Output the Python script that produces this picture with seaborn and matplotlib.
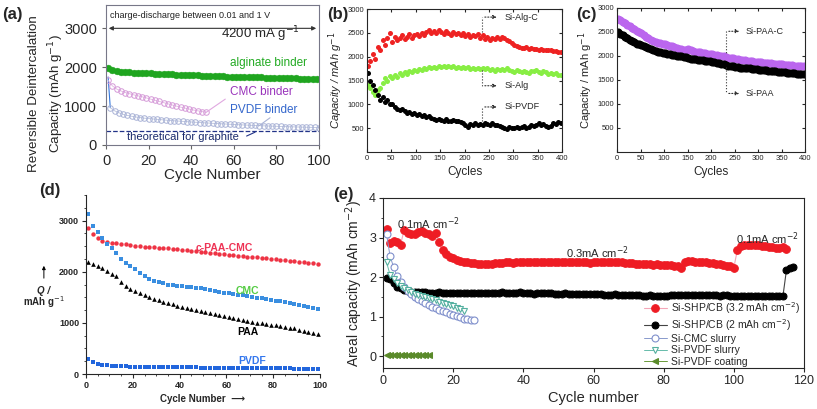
import numpy as np
import matplotlib
matplotlib.use("Agg")
import matplotlib.pyplot as plt
import seaborn as sns

sns.set_style("ticks")
plt.rcParams['font.family'] = ['Liberation Sans', 'DejaVu Sans']
plt.rcParams['axes.linewidth'] = 0.8

# ---------------- (a) ----------------
a_x_alg = np.arange(1, 101, 2)
a_alg = [1990, 1930, 1900, 1885, 1875, 1868, 1860, 1855, 1850, 1845,
         1840, 1835, 1830, 1825, 1820, 1815, 1810, 1805, 1800, 1796,
         1792, 1788, 1784, 1780, 1776, 1772, 1768, 1764, 1760, 1757,
         1754, 1751, 1748, 1745, 1742, 1739, 1736, 1733, 1730, 1727,
         1724, 1721, 1718, 1715, 1712, 1710, 1708, 1706, 1704, 1702]
a_x_cmc = np.arange(1, 48, 2)
a_cmc = [1660, 1520, 1440, 1390, 1350, 1320, 1290, 1265, 1240, 1210,
         1180, 1150, 1120, 1090, 1060, 1030, 1000, 975, 950, 925,
         900, 880, 860, 840]
a_x_pvdf = [1, 2, 4, 6, 8, 10, 12, 14, 16, 18, 20, 22, 24, 26, 28, 30, 32, 34, 36, 38,
            40, 42, 44, 46, 48, 50, 52, 54, 56, 58, 60, 62, 64, 66, 68, 70, 72, 74, 76, 78,
            80, 82, 84, 86, 88, 90, 92, 94, 96, 98, 100]
a_pvdf = [1750, 960, 880, 830, 790, 760, 740, 720, 705, 690, 680, 670, 660, 650, 640, 630,
          622, 615, 608, 600, 592, 585, 578, 571, 565, 558, 552, 546, 540, 534, 528, 522,
          517, 512, 507, 502, 497, 493, 489, 485, 481, 477, 473, 469, 466, 463, 460, 457,
          454, 451, 448]
graphite_theory = 372

# ---------------- (b) ----------------
b_x = np.arange(2, 400, 5)
b_algc = [1800, 1900, 2050, 1950, 2200, 2150, 2350, 2250, 2400, 2500,
          2300, 2420, 2350, 2400, 2450, 2380, 2420, 2470, 2400, 2450,
          2480, 2430, 2500, 2460, 2520, 2550, 2490, 2530, 2500, 2560,
          2510, 2480, 2530, 2500, 2460, 2510, 2470, 2500, 2450, 2490,
          2440, 2480, 2420, 2460, 2430, 2470, 2400, 2450, 2380, 2420,
          2350, 2400, 2370, 2410, 2380, 2420, 2390, 2360, 2330, 2280,
          2240, 2220, 2200, 2190, 2180, 2200, 2170, 2180, 2160, 2170,
          2150, 2160, 2140, 2150, 2130, 2140, 2120, 2110, 2100, 2090]
b_alg = [1400, 1350, 1250, 1200, 1300, 1350, 1450, 1550, 1500, 1600,
         1550, 1620, 1580, 1650, 1620, 1680, 1640, 1700, 1680, 1720,
         1700, 1740, 1720, 1760, 1740, 1780, 1760, 1790, 1770, 1800,
         1780, 1810, 1790, 1800, 1780, 1800, 1770, 1790, 1760, 1780,
         1760, 1780, 1750, 1770, 1740, 1760, 1750, 1770, 1740, 1760,
         1720, 1750, 1700, 1740, 1720, 1750, 1730, 1760, 1720, 1700,
         1680, 1710, 1690, 1670, 1700, 1680, 1660, 1700, 1690, 1720,
         1680, 1660, 1700, 1670, 1640, 1660, 1630, 1650, 1620, 1610]
b_pvdf = [1650, 1500, 1400, 1300, 1200, 1100, 1150, 1050, 1100, 1000,
          1000, 950, 900, 880, 900, 850, 820, 840, 800, 820,
          780, 800, 760, 780, 740, 760, 720, 700, 680, 700,
          680, 660, 690, 660, 650, 680, 640, 660, 620, 600,
          560, 520, 580, 560, 600, 570, 590, 560, 600, 580,
          560, 600, 570, 560, 540, 520, 500, 480, 520, 500,
          510, 530, 500, 520, 540, 510, 530, 560, 540, 570,
          600, 560, 580, 550, 520, 540, 600, 580, 620, 600]

# ---------------- (c) ----------------
c_x = np.arange(2, 400, 5)
c_paac = [2780, 2740, 2710, 2680, 2650, 2620, 2590, 2560, 2530, 2500,
          2470, 2430, 2400, 2370, 2340, 2310, 2290, 2280, 2270, 2260,
          2250, 2230, 2210, 2200, 2180, 2160, 2150, 2140, 2130, 2120,
          2140, 2120, 2100, 2090, 2080, 2080, 2070, 2060, 2050, 2050,
          2040, 2030, 2020, 2010, 2000, 1990, 1980, 1960, 1950, 1950,
          1940, 1930, 1920, 1920, 1910, 1900, 1900, 1890, 1880, 1880,
          1870, 1870, 1860, 1860, 1850, 1850, 1840, 1840, 1830, 1830,
          1830, 1820, 1820, 1810, 1810, 1800, 1800, 1800, 1790, 1790]
c_paa = [2490, 2460, 2430, 2400, 2370, 2340, 2310, 2290, 2260, 2240,
         2220, 2200, 2180, 2160, 2140, 2120, 2100, 2090, 2080, 2070,
         2060, 2050, 2040, 2030, 2020, 2010, 2000, 1990, 1980, 1970,
         1950, 1940, 1940, 1930, 1920, 1920, 1910, 1900, 1900, 1890,
         1880, 1870, 1860, 1850, 1840, 1830, 1820, 1800, 1790, 1790,
         1780, 1770, 1760, 1760, 1750, 1740, 1740, 1730, 1730, 1720,
         1710, 1710, 1700, 1700, 1690, 1690, 1680, 1680, 1670, 1670,
         1660, 1660, 1650, 1650, 1640, 1640, 1630, 1630, 1620, 1620]

# ---------------- (d) ----------------
d_x = np.arange(1, 100, 2)
d_cpaa = [2860, 2730, 2660, 2610, 2585, 2570, 2560, 2545, 2535, 2520,
          2510, 2500, 2492, 2485, 2478, 2470, 2462, 2455, 2447, 2438,
          2430, 2421, 2412, 2403, 2393, 2383, 2373, 2363, 2353, 2340,
          2330, 2322, 2313, 2305, 2296, 2288, 2280, 2271, 2263, 2254,
          2245, 2236, 2227, 2218, 2208, 2199, 2190, 2180, 2170, 2160]
d_cmc = [3120, 2900, 2780, 2650, 2550, 2460, 2370, 2240, 2180, 2110,
         2050, 1980, 1910, 1860, 1820, 1790, 1770, 1750, 1740, 1730,
         1720, 1710, 1700, 1690, 1680, 1660, 1650, 1630, 1610, 1590,
         1580, 1570, 1550, 1540, 1520, 1510, 1490, 1480, 1460, 1450,
         1430, 1420, 1400, 1380, 1370, 1350, 1330, 1310, 1290, 1280]
d_paa = [2190, 2150, 2120, 2070, 2010, 1960, 1910, 1790, 1720, 1660,
         1620, 1580, 1540, 1510, 1470, 1440, 1410, 1380, 1360, 1330,
         1310, 1290, 1270, 1250, 1230, 1210, 1190, 1170, 1150, 1130,
         1110, 1090, 1070, 1050, 1030, 1020, 1005, 990, 975, 960,
         950, 935, 920, 905, 890, 870, 850, 830, 810, 790]
d_pvdf = [290, 240, 205, 185, 170, 160, 155, 150, 148, 145,
          143, 141, 140, 138, 137, 136, 135, 134, 133, 132,
          131, 130, 129, 128, 127, 126, 125, 124, 123, 122,
          121, 120, 119, 118, 117, 116, 115, 114, 113, 112,
          111, 110, 109, 108, 107, 106, 105, 104, 103, 102]

# ---------------- (e) ----------------
e_x_red = np.arange(1, 116)
e_red = [3.22, 2.85, 2.92, 2.88, 2.82, 3.18, 3.12, 3.10, 3.10, 3.14,
         3.17, 3.12, 3.08, 3.05, 3.12, 2.88, 2.68, 2.58, 2.52, 2.47,
         2.43, 2.40, 2.38, 2.37, 2.36, 2.35, 2.34, 2.34, 2.33, 2.34,
         2.34, 2.35, 2.35, 2.36, 2.37, 2.37, 2.36, 2.37, 2.38, 2.38,
         2.39, 2.39, 2.38, 2.38, 2.37, 2.38, 2.38, 2.39, 2.38, 2.38,
         2.38, 2.39, 2.39, 2.38, 2.39, 2.38, 2.37, 2.37, 2.36, 2.37,
         2.37, 2.38, 2.37, 2.38, 2.37, 2.38, 2.38, 2.37, 2.36, 2.35,
         2.35, 2.34, 2.34, 2.33, 2.33, 2.32, 2.31, 2.32, 2.30, 2.30,
         2.31, 2.30, 2.28, 2.27, 2.22, 2.38, 2.40, 2.40, 2.39, 2.38,
         2.38, 2.37, 2.36, 2.35, 2.34, 2.33, 2.31, 2.29, 2.27, 2.24,
         2.68, 2.78, 2.82, 2.82, 2.81, 2.80, 2.80, 2.79, 2.78, 2.77,
         2.75, 2.74, 2.73, 2.76, 2.72]
e_x_black = np.arange(1, 118)
e_black = [1.98, 1.96, 1.86, 1.76, 1.72, 1.68, 1.65, 1.63, 1.62, 1.62,
           1.61, 1.61, 1.60, 1.60, 1.60, 1.61, 1.60, 1.60, 1.59, 1.60,
           1.60, 1.59, 1.60, 1.59, 1.60, 1.60, 1.59, 1.60, 1.59, 1.59,
           1.59, 1.60, 1.60, 1.61, 1.60, 1.59, 1.60, 1.60, 1.61, 1.60,
           1.59, 1.59, 1.58, 1.59, 1.59, 1.60, 1.59, 1.59, 1.58, 1.58,
           1.58, 1.59, 1.58, 1.58, 1.57, 1.58, 1.57, 1.57, 1.57, 1.56,
           1.56, 1.56, 1.55, 1.55, 1.55, 1.56, 1.55, 1.55, 1.55, 1.54,
           1.54, 1.54, 1.54, 1.53, 1.53, 1.54, 1.53, 1.53, 1.53, 1.52,
           1.53, 1.54, 1.54, 1.55, 1.55, 1.54, 1.54, 1.55, 1.55, 1.54,
           1.54, 1.54, 1.55, 1.54, 1.54, 1.53, 1.54, 1.54, 1.53, 1.53,
           1.53, 1.52, 1.52, 1.52, 1.51, 1.51, 1.51, 1.52, 1.51, 1.51,
           1.51, 1.52, 1.52, 1.52, 2.18, 2.23, 2.25]
e_x_cmc = np.arange(1, 27)
e_cmc = [3.10, 2.53, 2.26, 2.02, 1.88, 1.76, 1.66, 1.58, 1.50, 1.44,
         1.39, 1.34, 1.29, 1.25, 1.21, 1.17, 1.14, 1.11, 1.07, 1.04,
         1.01, 0.98, 0.95, 0.93, 0.92, 0.91]
e_x_pvdf = np.arange(1, 24)
e_pvdf = [2.38, 2.06, 1.95, 1.85, 1.78, 1.72, 1.67, 1.62, 1.58, 1.55,
          1.52, 1.50, 1.47, 1.44, 1.42, 1.38, 1.35, 1.32, 1.29, 1.26,
          1.22, 1.19, 1.15]
e_x_coat = np.arange(1, 14)
e_coat = [0.03, 0.02, 0.02, 0.02, 0.02, 0.02, 0.02, 0.02, 0.02, 0.02, 0.02, 0.02, 0.02]
e_labels = ['Si-SHP/CB (3.2 mAh cm$^{-2}$)', 'Si-SHP/CB (2 mAh cm$^{-2}$)',
            'Si-CMC slurry', 'Si-PVDF slurry', 'Si-PVDF coating']

W, H = 817, 409
fig = plt.figure(figsize=(W / 100, H / 100), dpi=100)


def box(l, t, r, b):
    return [l / W, 1 - b / H, (r - l) / W, (b - t) / H]


# ---- panel a ----
ax = fig.add_axes(box(106, 5, 319, 145))
sns.lineplot(x=a_x_pvdf[:2], y=a_pvdf[:2], ax=ax, color='#3377dd', lw=0.8)
sns.lineplot(x=a_x_pvdf[1:], y=a_pvdf[1:], ax=ax, color='#b8c0dc', lw=0.6, marker='o',
             markersize=4, markerfacecolor='none', markeredgecolor='#a9b3d6', markeredgewidth=0.7)
sns.lineplot(x=a_x_cmc, y=a_cmc, ax=ax, color='#e0b4e0', lw=0.6, marker='o',
             markersize=4, markerfacecolor='none', markeredgecolor='#d59ad8', markeredgewidth=0.7)
sns.scatterplot(x=a_x_alg, y=a_alg, ax=ax, color='#1fa51f', s=24, edgecolor='#1fa51f', linewidth=0.3)
ax.axhline(graphite_theory, color='#223388', ls='--', lw=0.9)
ax.plot([47, 56], [840, 1180], color='#e0a8e0', lw=0.8)
ax.plot([72, 77], [500, 700], color='#a9b3d6', lw=0.8)
ax.plot([66, 70], [230, 330], color='#223388', lw=0.8)
ax.annotate('', xy=(0, 3000), xytext=(100, 3000),
            arrowprops=dict(arrowstyle='<|-|>', color='#333333', lw=0.8, mutation_scale=6))
ax.text(2, 3340, 'charge-discharge between 0.01 and 1 V', fontsize=6.5, va='center', color='#222222')
ax.text(91, 2860, '4200 mA g$^{-1}$', fontsize=9.5, ha='right', va='center')
ax.text(58, 2100, 'alginate binder', fontsize=8.5, color='#22aa22', va='center')
ax.text(58, 1360, 'CMC binder', fontsize=8.5, color='#9933bb', va='center')
ax.text(58, 900, 'PVDF binder', fontsize=8.5, color='#3366cc', va='center')
ax.text(10, 200, 'theoretical for graphite', fontsize=8, color='#1a2a6c', va='center')
ax.set_xlim(0, 100)
ax.set_ylim(0, 3600)
ax.set_xticks([0, 20, 40, 60, 80, 100])
ax.set_yticks([0, 1000, 2000, 3000])
ax.tick_params(labelsize=10.5, length=3, color='#666666')
ax.set_xlabel('Cycle Number', fontsize=11, labelpad=0)
ax.set_ylabel('Reversible Deintercalation\nCapacity (mAh g$^{-1}$)', fontsize=9.6, linespacing=1.4)
ax.yaxis.set_label_coords(-0.19, 0.37)
for s in ax.spines.values():
    s.set_color('#777788')

# ---- panel b ----
ax = fig.add_axes(box(367, 9, 562, 152))
sns.scatterplot(x=b_x, y=b_algc, ax=ax, color='#ee2222', s=13, linewidth=0)
sns.scatterplot(x=b_x, y=b_alg, ax=ax, color='#88ee44', s=13, linewidth=0)
sns.scatterplot(x=b_x, y=b_pvdf, ax=ax, color='black', s=13, linewidth=0)
for yv, y0, name in [(2830, 2520, 'Si-Alg-C'), (1390, 1720, 'Si-Alg'), (945, 660, 'Si-PVDF')]:
    ax.plot([236, 236], [y0, yv], color='#333333', ls=':', lw=0.8)
    ax.annotate('', xy=(272, yv), xytext=(236, yv),
                arrowprops=dict(arrowstyle='-|>', color='#333333', ls=':', lw=0.8, mutation_scale=5))
    ax.text(282, yv, name, fontsize=6.5, va='center')
ax.set_xlim(0, 400)
ax.set_ylim(0, 3000)
ax.set_xticks(range(0, 401, 50))
ax.set_yticks(range(500, 3001, 500))
ax.tick_params(labelsize=5.5, direction='in', length=2.5, top=True, right=True, pad=2)
ax.set_xlabel('Cycles', fontsize=8.5, labelpad=3)
ax.set_ylabel('Capacity / mAh g$^{-1}$', fontsize=8, style='italic', labelpad=2)

# ---- panel c ----
ax = fig.add_axes(box(617, 8, 805, 152))
sns.scatterplot(x=c_x, y=c_paac, ax=ax, color='#bb66ee', s=34, linewidth=0)
sns.scatterplot(x=c_x, y=c_paa, ax=ax, color='black', s=34, linewidth=0)
ax.plot([232, 232], [2515, 2060], color='#333333', ls=':', lw=0.8)
ax.plot([232, 232], [1780, 1220], color='#333333', ls=':', lw=0.8)
for yv, name in [(2515, 'Si-PAA-C'), (1220, 'Si-PAA')]:
    ax.annotate('', xy=(266, yv), xytext=(232, yv),
                arrowprops=dict(arrowstyle='-|>', color='#333333', ls=':', lw=0.8, mutation_scale=5))
    ax.text(274, yv, name, fontsize=6.5, va='center')
ax.set_xlim(0, 400)
ax.set_ylim(0, 3000)
ax.set_xticks(range(0, 401, 50))
ax.set_yticks(range(500, 3001, 500))
ax.tick_params(labelsize=5.5, direction='in', length=2.5, top=True, right=True, pad=2)
ax.set_xlabel('Cycles', fontsize=8.5, labelpad=3)
ax.set_ylabel('Capacity / mAh g$^{-1}$', fontsize=8, labelpad=2)

# ---- panel d ----
ax = fig.add_axes(box(86, 195, 320, 374))
sns.scatterplot(x=d_x, y=d_cpaa, ax=ax, color='#ee3344', s=10, linewidth=0, marker='o')
sns.scatterplot(x=d_x, y=d_cmc, ax=ax, color='#3a8ee0', s=10, linewidth=0, marker='s')
sns.scatterplot(x=d_x, y=d_paa, ax=ax, color='black', s=11, linewidth=0, marker='^')
sns.scatterplot(x=d_x, y=d_pvdf, ax=ax, color='#2266dd', s=11, linewidth=0, marker='s')
ax.text(59, 2470, 'c-PAA-CMC', fontsize=7.5, color='#ee3355', fontweight='bold', ha='center', va='center')
ax.text(69, 1630, 'CMC', fontsize=7.5, color='#55cc44', fontweight='bold', ha='center', va='center')
ax.text(69, 820, 'PAA', fontsize=7.5, color='black', fontweight='bold', ha='center', va='center')
ax.text(71, 255, 'PVDF', fontsize=7.5, color='#3377ee', fontweight='bold', ha='center', va='center')
ax.annotate('', xy=(-0.18, 0.62), xytext=(-0.18, 0.52), xycoords='axes fraction',
            arrowprops=dict(arrowstyle='-|>', color='black', lw=0.7, mutation_scale=5))
ax.text(-0.18, 0.465, 'Q /', transform=ax.transAxes, fontsize=7, fontweight='bold',
        style='italic', ha='center', va='center')
ax.text(-0.18, 0.40, 'mAh g$^{-1}$', transform=ax.transAxes, fontsize=7, fontweight='bold',
        ha='center', va='center')
ax.set_xlim(0, 100)
ax.set_ylim(0, 3500)
ax.set_xticks(range(0, 101, 20))
ax.set_xticks(range(0, 101, 5), minor=True)
ax.set_yticks([0, 1000, 2000, 3000])
ax.set_yticks(range(0, 3501, 250), minor=True)
ax.tick_params(labelsize=6.5, length=3, width=0.8, pad=2)
ax.tick_params(which='minor', length=1.5)
for lab in ax.get_xticklabels() + ax.get_yticklabels():
    lab.set_fontweight('bold')
ax.set_xlabel('Cycle Number  \u27f6', fontsize=7, fontweight='bold', labelpad=3)
sns.despine(ax=ax)

# ---- panel e ----
ax = fig.add_axes(box(383, 198, 804, 368))
sns.lineplot(x=e_x_red, y=e_red, ax=ax, color='#f4a6b8', lw=0.8, marker='o', markersize=5.5,
             markerfacecolor='#ee1c24', markeredgecolor='#ee1c24', label=e_labels[0])
sns.lineplot(x=e_x_black, y=e_black, ax=ax, color='#444444', lw=0.8, marker='o', markersize=5,
             markerfacecolor='black', markeredgecolor='black', label=e_labels[1])
sns.lineplot(x=e_x_cmc, y=e_cmc, ax=ax, color='#8899cc', lw=0.7, marker='o', markersize=5,
             markerfacecolor='white', markeredgecolor='#7f8fcc', markeredgewidth=0.8, label=e_labels[2])
sns.lineplot(x=e_x_pvdf, y=e_pvdf, ax=ax, color='#66bbaa', lw=0.7, marker='v', markersize=5,
             markerfacecolor='white', markeredgecolor='#55b0a0', markeredgewidth=0.8, label=e_labels[3])
sns.lineplot(x=e_x_coat, y=e_coat, ax=ax, color='#6a9a3a', lw=0.7, marker='<', markersize=4.5,
             markerfacecolor='#5a8a2a', markeredgecolor='#5a8a2a', label=e_labels[4])
ax.text(4, 3.34, '0.1mA cm$^{-2}$', fontsize=8, va='center')
ax.text(61, 2.62, '0.3mA cm$^{-2}$', fontsize=8, va='center', ha='center')
ax.text(109.5, 2.98, '0.1mA cm$^{-2}$', fontsize=8, va='center', ha='center')
ax.legend(loc='upper left', bbox_to_anchor=(0.62, 0.40), frameon=False, fontsize=7.5,
          handlelength=2.2, labelspacing=0.12, borderaxespad=0, borderpad=0, handletextpad=0.4)
ax.set_xlim(0, 120)
ax.set_ylim(-0.3, 4.0)
ax.set_xticks(range(0, 121, 20))
ax.set_yticks([0, 1, 2, 3, 4])
ax.set_yticks([0.5, 1.5, 2.5, 3.5], minor=True)
ax.tick_params(labelsize=9, length=3, pad=2)
ax.tick_params(which='minor', length=1.5)
ax.set_xlabel('Cycle number', fontsize=10.5, labelpad=3)
ax.set_ylabel('Areal capacity (mAh cm$^{-2}$)', fontsize=10, labelpad=3)

# panel letters
for lbl, px, py in [('(a)', 12, 15), ('(b)', 338, 14), ('(c)', 586, 14), ('(d)', 50, 191), ('(e)', 343, 194)]:
    fig.text(px / W, 1 - py / H, lbl, fontsize=12, fontweight='bold', ha='center', va='center')

fig.savefig('out.png', dpi=100)
